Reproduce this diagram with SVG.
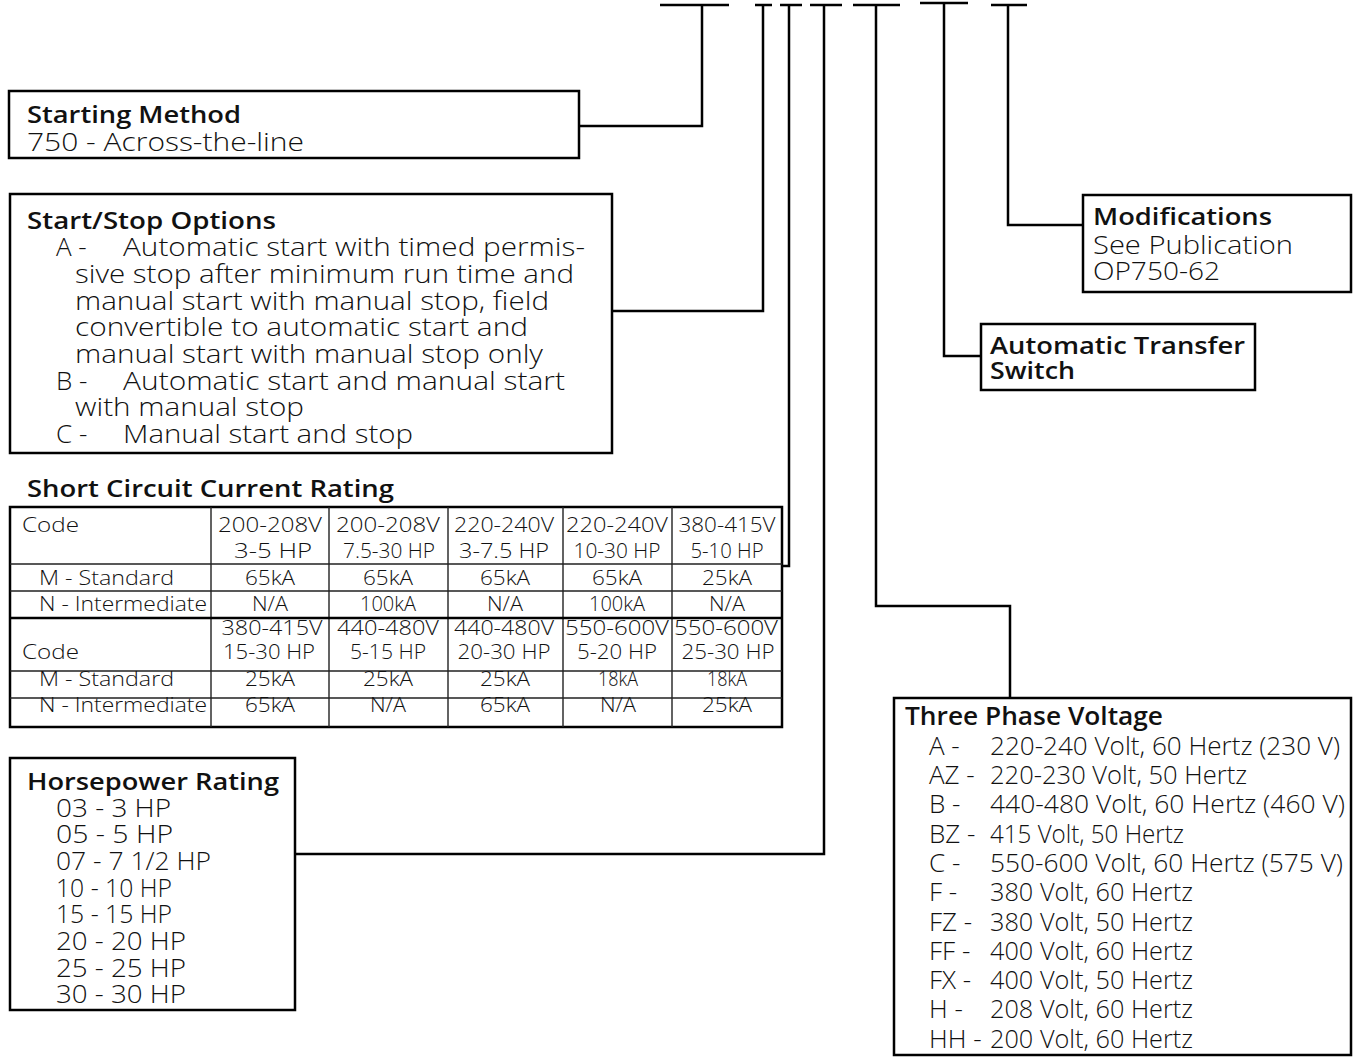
<svg xmlns="http://www.w3.org/2000/svg" width="1357" height="1057" viewBox="0 0 1357 1057">
<style>
.box{fill:#fff;stroke:#000;stroke-width:2.5}
.ln{fill:none;stroke:#000;stroke-width:2.5}
.grid{fill:none;stroke:#222;stroke-width:1.4}
text{font-family:"Open Sans","DejaVu Sans",sans-serif;fill:#111}
.h{font-size:23px;font-weight:600}
.b{font-size:26px;font-weight:350}
.c{font-size:20px;font-weight:350}
.m{text-anchor:middle}
</style>
<rect width="1357" height="1057" fill="#fff"/>
<g id="connectors">
<path class="ln" d="M660,5H729M755,5H772M780,5H802M810,5H842M853,5H900M920,3H968M991,5H1027"/>
<path class="ln" d="M702,5V126H579"/>
<path class="ln" d="M763,5V311H612"/>
<path class="ln" d="M789,5V566H782"/>
<path class="ln" d="M824,5V854H295"/>
<path class="ln" d="M876,5V606H1010V698"/>
<path class="ln" d="M944,3V356H981"/>
<path class="ln" d="M1008,5V225H1083"/>
</g>
<g id="starting-method">
<rect class="box" x="9" y="91" width="570" height="67"/>
<text class="h" x="27" y="123" textLength="214" lengthAdjust="spacingAndGlyphs">Starting Method</text>
<text class="b" x="27" y="151" textLength="277" lengthAdjust="spacingAndGlyphs">750 - Across-the-line</text>
</g>
<g id="start-stop-options">
<rect class="box" x="10" y="194" width="602" height="259"/>
<text class="h" x="27" y="229" textLength="249" lengthAdjust="spacingAndGlyphs">Start/Stop Options</text>
<text class="b" x="56" y="256">A -</text>
<text class="b" x="123" y="256" textLength="462" lengthAdjust="spacingAndGlyphs">Automatic start with timed permis-</text>
<text class="b" x="75" y="283" textLength="499" lengthAdjust="spacingAndGlyphs">sive stop after minimum run time and</text>
<text class="b" x="75" y="310" textLength="474" lengthAdjust="spacingAndGlyphs">manual start with manual stop, field</text>
<text class="b" x="75" y="336" textLength="453" lengthAdjust="spacingAndGlyphs">convertible to automatic start and</text>
<text class="b" x="75" y="363" textLength="468" lengthAdjust="spacingAndGlyphs">manual start with manual stop only</text>
<text class="b" x="56" y="390">B -</text>
<text class="b" x="123" y="390" textLength="442" lengthAdjust="spacingAndGlyphs">Automatic start and manual start</text>
<text class="b" x="75" y="416" textLength="229" lengthAdjust="spacingAndGlyphs">with manual stop</text>
<text class="b" x="56" y="443">C -</text>
<text class="b" x="123" y="443" textLength="290" lengthAdjust="spacingAndGlyphs">Manual start and stop</text>
</g>
<g id="short-circuit-current-rating">
<text class="h" x="27" y="497" style="font-size:24px" textLength="367" lengthAdjust="spacingAndGlyphs">Short Circuit Current Rating</text>
<rect class="box" x="10" y="507" width="772" height="220"/>
<path class="grid" d="M10,564H782M10,591H782M10,671H782M10,698H782M211,507V727M329,507V727M448,507V727M563,507V727M672,507V727"/>
<path class="ln" d="M10,618H782"/>
<text class="c" x="22" y="532" textLength="57" lengthAdjust="spacingAndGlyphs">Code</text>
<text class="c m" x="270" y="532" textLength="104" lengthAdjust="spacingAndGlyphs">200-208V</text>
<text class="c m" x="388" y="532" textLength="104" lengthAdjust="spacingAndGlyphs">200-208V</text>
<text class="c m" x="504" y="532" textLength="100" lengthAdjust="spacingAndGlyphs">220-240V</text>
<text class="c m" x="617" y="532" textLength="102" lengthAdjust="spacingAndGlyphs">220-240V</text>
<text class="c m" x="727" y="532" textLength="97" lengthAdjust="spacingAndGlyphs">380-415V</text>
<text class="c m" x="273" y="558" textLength="78" lengthAdjust="spacingAndGlyphs">3-5 HP</text>
<text class="c m" x="389" y="558" textLength="92" lengthAdjust="spacingAndGlyphs">7.5-30 HP</text>
<text class="c m" x="504" y="558" textLength="90" lengthAdjust="spacingAndGlyphs">3-7.5 HP</text>
<text class="c m" x="617" y="558" textLength="87" lengthAdjust="spacingAndGlyphs">10-30 HP</text>
<text class="c m" x="727" y="558" textLength="73" lengthAdjust="spacingAndGlyphs">5-10 HP</text>
<text class="c" x="39" y="585" textLength="135" lengthAdjust="spacingAndGlyphs">M - Standard</text>
<text class="c m" x="270" y="585" textLength="50" lengthAdjust="spacingAndGlyphs">65kA</text>
<text class="c m" x="388" y="585" textLength="50" lengthAdjust="spacingAndGlyphs">65kA</text>
<text class="c m" x="505" y="585" textLength="50" lengthAdjust="spacingAndGlyphs">65kA</text>
<text class="c m" x="617" y="585" textLength="50" lengthAdjust="spacingAndGlyphs">65kA</text>
<text class="c m" x="727" y="585" textLength="50" lengthAdjust="spacingAndGlyphs">25kA</text>
<text class="c" x="39" y="611" textLength="168" lengthAdjust="spacingAndGlyphs">N - Intermediate</text>
<text class="c m" x="270" y="611" textLength="36" lengthAdjust="spacingAndGlyphs">N/A</text>
<text class="c m" x="388" y="611" textLength="56" lengthAdjust="spacingAndGlyphs">100kA</text>
<text class="c m" x="505" y="611" textLength="36" lengthAdjust="spacingAndGlyphs">N/A</text>
<text class="c m" x="617" y="611" textLength="56" lengthAdjust="spacingAndGlyphs">100kA</text>
<text class="c m" x="727" y="611" textLength="36" lengthAdjust="spacingAndGlyphs">N/A</text>
<text class="c m" x="272" y="635" textLength="101" lengthAdjust="spacingAndGlyphs">380-415V</text>
<text class="c m" x="388" y="635" textLength="102" lengthAdjust="spacingAndGlyphs">440-480V</text>
<text class="c m" x="504" y="635" textLength="100" lengthAdjust="spacingAndGlyphs">440-480V</text>
<text class="c m" x="617" y="635" textLength="104" lengthAdjust="spacingAndGlyphs">550-600V</text>
<text class="c m" x="726" y="635" textLength="104" lengthAdjust="spacingAndGlyphs">550-600V</text>
<text class="c" x="22" y="659" textLength="57" lengthAdjust="spacingAndGlyphs">Code</text>
<text class="c m" x="269" y="659" textLength="92" lengthAdjust="spacingAndGlyphs">15-30 HP</text>
<text class="c m" x="388" y="659" textLength="76" lengthAdjust="spacingAndGlyphs">5-15 HP</text>
<text class="c m" x="504" y="659" textLength="93" lengthAdjust="spacingAndGlyphs">20-30 HP</text>
<text class="c m" x="617" y="659" textLength="80" lengthAdjust="spacingAndGlyphs">5-20 HP</text>
<text class="c m" x="728" y="659" textLength="93" lengthAdjust="spacingAndGlyphs">25-30 HP</text>
<text class="c" x="39" y="686" textLength="135" lengthAdjust="spacingAndGlyphs">M - Standard</text>
<text class="c m" x="270" y="686" textLength="50" lengthAdjust="spacingAndGlyphs">25kA</text>
<text class="c m" x="388" y="686" textLength="50" lengthAdjust="spacingAndGlyphs">25kA</text>
<text class="c m" x="505" y="686" textLength="50" lengthAdjust="spacingAndGlyphs">25kA</text>
<text class="c m" x="618" y="686" textLength="40" lengthAdjust="spacingAndGlyphs">18kA</text>
<text class="c m" x="727" y="686" textLength="40" lengthAdjust="spacingAndGlyphs">18kA</text>
<text class="c" x="39" y="712" textLength="168" lengthAdjust="spacingAndGlyphs">N - Intermediate</text>
<text class="c m" x="270" y="712" textLength="50" lengthAdjust="spacingAndGlyphs">65kA</text>
<text class="c m" x="388" y="712" textLength="36" lengthAdjust="spacingAndGlyphs">N/A</text>
<text class="c m" x="505" y="712" textLength="50" lengthAdjust="spacingAndGlyphs">65kA</text>
<text class="c m" x="618" y="712" textLength="36" lengthAdjust="spacingAndGlyphs">N/A</text>
<text class="c m" x="727" y="712" textLength="50" lengthAdjust="spacingAndGlyphs">25kA</text>
</g>
<g id="horsepower-rating">
<rect class="box" x="10" y="758" width="285" height="252"/>
<text class="h" x="27" y="790" textLength="252" lengthAdjust="spacingAndGlyphs">Horsepower Rating</text>
<text class="b" x="56" y="817" textLength="115" lengthAdjust="spacingAndGlyphs">03 - 3 HP</text>
<text class="b" x="56" y="843" textLength="117" lengthAdjust="spacingAndGlyphs">05 - 5 HP</text>
<text class="b" x="56" y="870" textLength="155" lengthAdjust="spacingAndGlyphs">07 - 7 1/2 HP</text>
<text class="b" x="56" y="897" textLength="116" lengthAdjust="spacingAndGlyphs">10 - 10 HP</text>
<text class="b" x="56" y="923" textLength="116" lengthAdjust="spacingAndGlyphs">15 - 15 HP</text>
<text class="b" x="56" y="950" textLength="130" lengthAdjust="spacingAndGlyphs">20 - 20 HP</text>
<text class="b" x="56" y="977" textLength="130" lengthAdjust="spacingAndGlyphs">25 - 25 HP</text>
<text class="b" x="56" y="1003" textLength="130" lengthAdjust="spacingAndGlyphs">30 - 30 HP</text>
</g>
<g id="three-phase-voltage">
<rect class="box" x="894" y="698" width="457" height="357"/>
<text class="h" x="905" y="725" style="font-size:25px" textLength="258" lengthAdjust="spacingAndGlyphs">Three Phase Voltage</text>
<text class="b" x="929" y="755">A -</text>
<text class="b" x="990" y="755" textLength="350" lengthAdjust="spacingAndGlyphs">220-240 Volt, 60 Hertz (230 V)</text>
<text class="b" x="929" y="784">AZ -</text>
<text class="b" x="990" y="784" textLength="257" lengthAdjust="spacingAndGlyphs">220-230 Volt, 50 Hertz</text>
<text class="b" x="929" y="813">B -</text>
<text class="b" x="990" y="813" textLength="355" lengthAdjust="spacingAndGlyphs">440-480 Volt, 60 Hertz (460 V)</text>
<text class="b" x="929" y="843">BZ -</text>
<text class="b" x="990" y="843" textLength="194" lengthAdjust="spacingAndGlyphs">415 Volt, 50 Hertz</text>
<text class="b" x="929" y="872">C -</text>
<text class="b" x="990" y="872" textLength="353" lengthAdjust="spacingAndGlyphs">550-600 Volt, 60 Hertz (575 V)</text>
<text class="b" x="929" y="901">F -</text>
<text class="b" x="990" y="901" textLength="203" lengthAdjust="spacingAndGlyphs">380 Volt, 60 Hertz</text>
<text class="b" x="929" y="931">FZ -</text>
<text class="b" x="990" y="931" textLength="203" lengthAdjust="spacingAndGlyphs">380 Volt, 50 Hertz</text>
<text class="b" x="929" y="960">FF -</text>
<text class="b" x="990" y="960" textLength="203" lengthAdjust="spacingAndGlyphs">400 Volt, 60 Hertz</text>
<text class="b" x="929" y="989">FX -</text>
<text class="b" x="990" y="989" textLength="203" lengthAdjust="spacingAndGlyphs">400 Volt, 50 Hertz</text>
<text class="b" x="929" y="1018">H -</text>
<text class="b" x="990" y="1018" textLength="203" lengthAdjust="spacingAndGlyphs">208 Volt, 60 Hertz</text>
<text class="b" x="929" y="1048">HH -</text>
<text class="b" x="990" y="1048" textLength="203" lengthAdjust="spacingAndGlyphs">200 Volt, 60 Hertz</text>
</g>
<g id="modifications">
<rect class="box" x="1083" y="195" width="268" height="97"/>
<text class="h" x="1093" y="225" textLength="179" lengthAdjust="spacingAndGlyphs">Modifications</text>
<text class="b" x="1093" y="254" textLength="200" lengthAdjust="spacingAndGlyphs">See Publication</text>
<text class="b" x="1093" y="280" textLength="127" lengthAdjust="spacingAndGlyphs">OP750-62</text>
</g>
<g id="automatic-transfer-switch">
<rect class="box" x="981" y="324" width="274" height="66"/>
<text class="h" x="990" y="354" textLength="255" lengthAdjust="spacingAndGlyphs">Automatic Transfer</text>
<text class="h" x="990" y="379" textLength="85" lengthAdjust="spacingAndGlyphs">Switch</text>
</g>
</svg>
